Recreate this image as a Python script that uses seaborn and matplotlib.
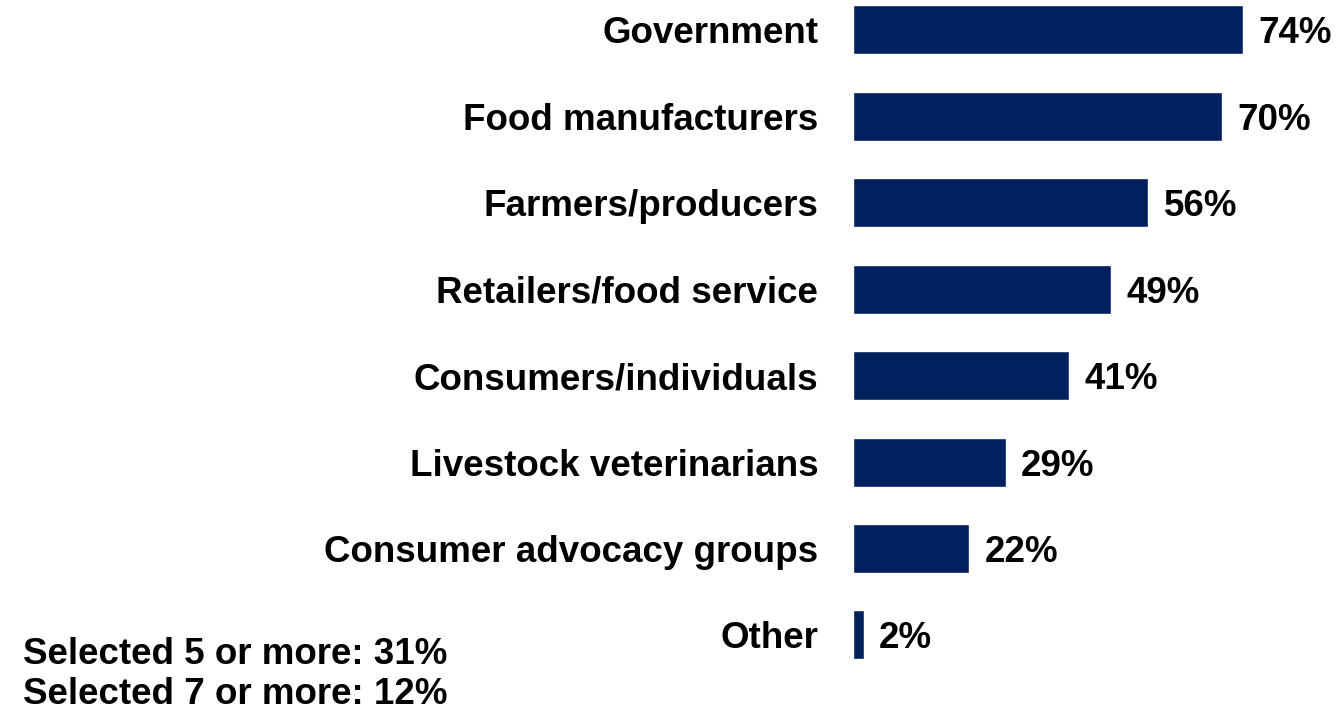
import matplotlib
matplotlib.use("Agg")
import matplotlib.pyplot as plt
import seaborn as sns
import pandas as pd

categories = [
    "Government",
    "Food manufacturers",
    "Farmers/producers",
    "Retailers/food service",
    "Consumers/individuals",
    "Livestock veterinarians",
    "Consumer advocacy groups",
    "Other",
]
values = [74, 70, 56, 49, 41, 29, 22, 2]
summary_lines = ["Selected 5 or more: 31%", "Selected 7 or more: 12%"]

sns.set_theme(style="white")
plt.rcParams["font.family"] = ["Liberation Sans", "DejaVu Sans"]

df = pd.DataFrame({"category": categories, "value": values})

W, H = 1338, 710
fig = plt.figure(figsize=(W / 100, H / 100), dpi=100)
ax = fig.add_axes([853 / W, 0, (W - 853) / W, 1])

navy = "#03205E"
sns.barplot(data=df, x="value", y="category", orient="h", color=navy,
            saturation=1, width=0.567, ax=ax)

ax.set_xlim(0, 92.0)
ax.set_ylim(7.868, -0.347)

for c in ax.containers:
    texts = ax.bar_label(c, labels=[f"{v}%" for v in values], padding=11,
                         fontsize=26.5, fontweight="bold", color="black")
    for t in texts:
        t.set_va("center_baseline")

ax.set_xlabel("")
ax.set_ylabel("")
ax.set_xticks([])
ax.tick_params(axis="y", length=0, pad=25)
for lbl in ax.get_yticklabels():
    lbl.set_fontsize(26.5)
    lbl.set_fontweight("bold")
    lbl.set_color("black")
for s in ax.spines.values():
    s.set_visible(False)

fig.text(235 / W, 1 - 655 / H, summary_lines[0], ha="center", va="center",
         fontsize=26.5, fontweight="bold", color="black")
fig.text(235 / W, 1 - 695 / H, summary_lines[1], ha="center", va="center",
         fontsize=26.5, fontweight="bold", color="black")

fig.savefig("out.png", dpi=100, facecolor="white")
